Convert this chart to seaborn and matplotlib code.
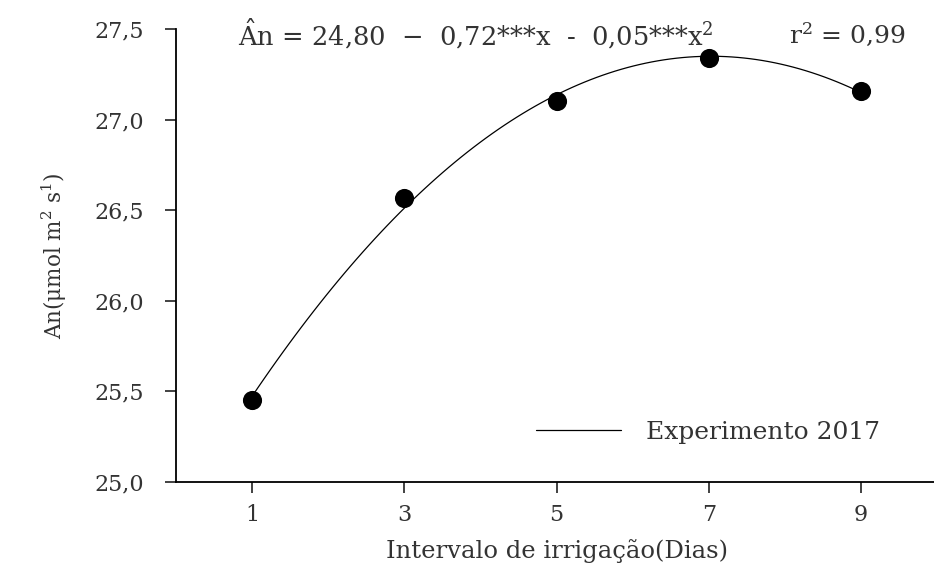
import matplotlib
matplotlib.use("Agg")
import matplotlib.pyplot as plt
import seaborn as sns
import pandas as pd

# Data
intervalo = [1, 3, 5, 7, 9]
an_values = [25.45, 26.57, 27.10, 27.34, 27.16]
x_ticks = [1, 3, 5, 7, 9]
y_ticks = [25.0, 25.5, 26.0, 26.5, 27.0, 27.5]
y_tick_labels = ["25,0", "25,5", "26,0", "26,5", "27,0", "27,5"]

df = pd.DataFrame({"x": intervalo, "y": an_values})

sns.set_style("ticks")
plt.rcParams["font.family"] = ["DejaVu Serif", "DejaVu Sans"]
plt.rcParams["mathtext.fontset"] = "dejavuserif"

fig = plt.figure(figsize=(9.34, 5.66), dpi=100)
ax = fig.add_axes([0.1884, 0.1484, 0.815, 0.8004])

sns.regplot(data=df, x="x", y="y", order=2, ci=None, scatter=False, ax=ax,
            color="black", line_kws=dict(lw=0.9))
fit_line = ax.lines[-1]
fit_line.set_label("Experimento 2017")
sns.scatterplot(data=df, x="x", y="y", ax=ax, color="black", s=190,
                edgecolor="black", linewidth=0, zorder=5, legend=False)

ax.set_xlim(0, 10)
ax.set_ylim(25.0, 27.5)
ax.set_xticks(x_ticks)
ax.set_xticklabels([str(v) for v in x_ticks])
ax.set_yticks(y_ticks)
ax.set_yticklabels(y_tick_labels)
ax.tick_params(axis="both", labelsize=16, colors="#333333", length=8, width=1.3,
               direction="out", pad=8)
ax.tick_params(axis="y", pad=15)
for s in ["top", "right"]:
    ax.spines[s].set_visible(False)
for s in ["left", "bottom"]:
    ax.spines[s].set_linewidth(1.3)
    ax.spines[s].set_color("black")

ax.set_xlabel("Intervalo de irrigação(Dias)", fontsize=17.5, labelpad=9, color="#333333")
ax.set_ylabel("An(μmol m$^{2}$ s$^{1}$)", fontsize=15.5, labelpad=18, color="#333333")

ax.legend(handles=[fit_line], loc="lower right", frameon=False, fontsize=18,
          handlelength=3.4, handletextpad=1.0,
          bbox_to_anchor=(0.955, 0.035), labelcolor="#333333")

fig.text(0.255, 0.94,
         r"$\hat{\mathrm{A}}$n = 24,80  −  0,72***x  -  0,05***x$^{2}$",
         fontsize=18.5, color="#333333", va="center")
fig.text(0.845, 0.94, r"r$^{2}$ = 0,99",
         fontsize=18, color="#333333", va="center")

fig.savefig("out.png", dpi=100, facecolor="white")
